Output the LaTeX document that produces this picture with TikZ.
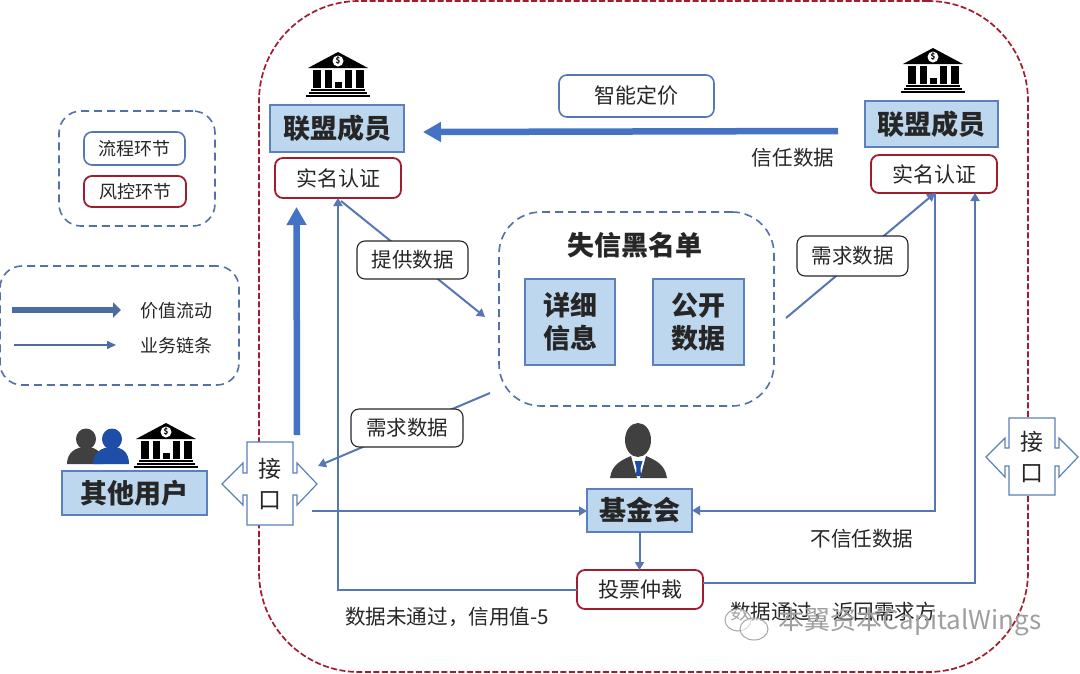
\documentclass[tikz,border=0pt]{standalone}
\usepackage{fontspec}
\setmainfont{Noto Sans CJK SC}
\usetikzlibrary{arrows.meta,calc,shapes.geometric}
\definecolor{boxfill}{HTML}{BDD7EE}
\definecolor{boxline}{HTML}{5B80BD}
\definecolor{flow}{HTML}{4472C4}
\definecolor{linkc}{HTML}{5676B4}
\definecolor{riskc}{HTML}{A21C2E}
\definecolor{ink}{HTML}{262626}
\definecolor{dashc}{HTML}{5470A8}
\definecolor{headc}{HTML}{404040}
\definecolor{bluep}{HTML}{1F4EA8}
\newcommand{\fsz}[1]{\fontsize{#1}{#1}\selectfont}
\tikzset{
  x=1pt,y=-1pt,
  every node/.style={inner sep=0pt,outer sep=0pt,text=ink},
  bluebox/.style={draw=boxline,fill=boxfill,line width=2pt,font=\fsz{27}\bfseries,align=center},
  riskbox/.style={draw=riskc,fill=white,line width=1.8pt,rounded corners=8pt,font=\fsz{21}},
  plainbox/.style={draw=ink,fill=white,line width=1.1pt,rounded corners=8pt,font=\fsz{20.5}},
  procbox/.style={draw=linkc,fill=white,line width=1.6pt,rounded corners=8pt,font=\fsz{21}},
  dashbox/.style={draw=dashc,line width=1.6pt,dash pattern=on 8pt off 5pt,rounded corners=22pt},
  label/.style={font=\fsz{20.6}},
  small/.style={font=\fsz{18}},
  linkline/.style={draw=linkc,line width=2pt,-{Triangle[length=8pt,width=9pt]}},
  valueline/.style={draw=flow,line width=6.5pt,-{Triangle[length=18pt,width=19pt]}},
  portc/.style={draw=boxline,fill=white,line width=1.2pt,line join=miter},
  pics/bank/.style={code={
    \fill[black] (-30,16) -- (0,0) -- (30,16) -- cycle;
    \fill[white] (0,9) circle (5.5);
    \node[font=\fsz{8}\bfseries,text=black] (-bankmark) at (0,9) {\$};
    \foreach \a/\b in {-25/-17,-13/-6,7/14,18/26} \fill[black] (\a,18) rectangle (\b,36);
    \fill[black] (-3,30) rectangle (4,36);
    \fill[black] (-27,37) rectangle (27,39);
    \fill[black] (-29,40) rectangle (29,42);
    \fill[black] (-32,43) rectangle (32,45);
  }},
  pics/user/.style={code={
    \fill[pic actions] (0,0) ellipse (10 and 10.5);
    \fill[pic actions] (-19,25) .. controls (-19,14) and (-11,8) .. (0,8) .. controls (11,8) and (17,14) .. (17,25) -- cycle;
  }},
}
\begin{document}
\begin{tikzpicture}
\useasboundingbox (0,0) rectangle (1080,673);
\fill[white] (0,0) rectangle (1080,673);

% outer frame
\node[draw=riskc,line width=1.7pt,dash pattern=on 6pt off 2.5pt,rounded corners=100pt,minimum width=769pt,minimum height=671pt] (outer) at (643.5,336.5) {};

% legends
\node[dashbox,minimum width=156pt,minimum height=115pt] (legA) at (137,168.5) {};
\node[procbox,minimum width=101pt,minimum height=33pt,font=\fsz{18}] (legProc) at (134.5,148.5) {流程环节};
\node[riskbox,minimum width=102pt,minimum height=31pt,font=\fsz{18}] (legRisk) at (135,191.5) {风控环节};
\node[dashbox,minimum width=239pt,minimum height=119pt] (legB) at (119.5,325.5) {};
\coordinate (va) at (12,310); \coordinate (vb) at (121,310);
\coordinate (ba) at (14,345); \coordinate (bb) at (116,345);
\draw[draw=boxline!85!black,line width=6pt,-{Triangle[length=8pt,width=15pt]}] (va) -- (vb);
\draw[draw=boxline!85!black,line width=1.6pt,-{Triangle[length=9pt,width=8pt]}] (ba) -- (bb);
\node[small] (legV) at (176,311) {价值流动};
\node[small] (legL) at (176,346) {业务链条};

% ports
\draw[portc] (222,484) -- (243,463) -- (243,473) -- (247,473) -- (247,442) -- (293,442) -- (293,473) -- (297,473) -- (297,463) -- (317,484) -- (297,505) -- (297,495) -- (293,495) -- (293,525) -- (247,525) -- (247,495) -- (243,495) -- (243,505) -- cycle;
\node[font=\fsz{23}] (portL) at (270,484) {\shortstack{接\\[9pt]口}};
\draw[portc] (986,457) -- (1005,438) -- (1005,448) -- (1009,448) -- (1009,418) -- (1055,418) -- (1055,448) -- (1059,448) -- (1059,438) -- (1078,457) -- (1059,477) -- (1059,466) -- (1055,466) -- (1055,495) -- (1009,495) -- (1009,466) -- (1005,466) -- (1005,477) -- cycle;
\node[font=\fsz{23}] (portR) at (1032,457) {\shortstack{接\\[9pt]口}};

% blacklist
\node[dashbox,rounded corners=42pt,fill=white,minimum width=275pt,minimum height=194pt] (black) at (636.5,309) {};
\node[font=\fsz{27}\bfseries] (blackT) at (635,245) {失信黑名单};
\node[bluebox,minimum width=90pt,minimum height=86pt,line width=2.4pt] (detail) at (570,322) {详细\\[6pt]信息};
\node[bluebox,minimum width=91pt,minimum height=86pt,line width=2.4pt] (open) at (698.5,322) {公开\\[6pt]数据};

% members
\pic at (338,52) {bank};
\node[bluebox,minimum width=134pt,minimum height=47pt] (memL) at (337,128.5) {联盟成员};
\node[riskbox,minimum width=126pt,minimum height=40pt] (authL) at (338,178) {实名认证};
\pic at (933,48) {bank};
\node[bluebox,minimum width=133pt,minimum height=46pt] (memR) at (931.5,124) {联盟成员};
\node[riskbox,minimum width=126pt,minimum height=38pt] (authR) at (934,174) {实名认证};

% value flows
\coordinate (vsrc) at (838,131); \coordinate (vdst) at (423,132);
\draw[valueline] (vsrc) -- (vdst);
\node[procbox,minimum width=155pt,minimum height=42pt] (price) at (636.5,96) {智能定价};
\node[label] (trust) at (793,158) {信任数据};
\coordinate (usrc) at (297,435); \coordinate (udst) at (296.5,207);
\draw[valueline] (usrc) -- (udst);

% other users
\pic[fill=headc] at (86,439) {user};
\pic[fill=bluep] at (112,439) {user};
\pic at (166,423) {bank};
\node[bluebox,minimum width=145pt,minimum height=44pt] (others) at (134.5,493) {其他用户};

% foundation
\fill[headc] (638,440) ellipse (13 and 17);
\fill[headc] (610,478) .. controls (612,464) and (622,460) .. (631,456) -- (637,478) -- cycle;
\fill[headc] (667,478) .. controls (665,464) and (655,460) .. (646,456) -- (640,478) -- cycle;
\fill[bluep] (634.5,461) -- (642.5,461) -- (640.5,468) -- (641,476) -- (636,476) -- (636.5,468) -- cycle;
\node[bluebox,minimum width=105pt,minimum height=43pt] (fund) at (639.5,510.5) {基金会};
\node[riskbox,minimum width=126pt,minimum height=39pt] (vote) at (640,589.5) {投票仲裁};

% connectors
\coordinate (c1a) at (341,201); \coordinate (c1b) at (485,317);
\draw[linkline] (c1a) -- (c1b);
\coordinate (c2a) at (786,318);
\coordinate (authRa) at (935,193);
\draw[linkline] (c2a) -- (authRa);
\coordinate (c3a) at (490,393); \coordinate (c3b) at (318,466);
\draw[linkline] (c3a) -- (c3b);
\coordinate (c4a) at (312,511);
\draw[linkline] (c4a) -- (fund.west |- c4a);
\draw[linkline] (authRa) -- (authRa |- fund.east) -- (fund.east);
\draw[linkline] (fund.south) -- (vote.north -| fund.south);
\coordinate (authRb) at (975,193);
\coordinate (voteE) at (703,583);
\draw[linkline] (voteE) -- (authRb |- voteE) -- (authRb);
\coordinate (authLb) at (338,198);
\coordinate (voteW) at (577,590);
\draw[linkline] (voteW) -- (authLb |- voteW) -- (authLb);

% link labels
\node[plainbox,minimum width=111pt,minimum height=38pt] (supply) at (412.5,260) {提供数据};
\node[plainbox,minimum width=111pt,minimum height=40pt] (needR) at (852.5,256) {需求数据};
\node[plainbox,minimum width=112pt,minimum height=38pt] (needL) at (407,428) {需求数据};
\node[label] (untrust) at (862,539) {不信任数据};
\node[label] (reject) at (447,617) {数据未通过，信用值-5};
\node[label] (pass) at (833,612) {数据通过，返回需求方};

% watermark
\draw[gray!70,line width=1pt,fill=white,fill opacity=.6] (738,620) ellipse (13 and 11);
\draw[gray!70,line width=1pt,fill=white,fill opacity=.6] (754,629) ellipse (14 and 11);
\node[font=\fsz{26},text=gray!75] (mark) at (910,622) {本翼资本CapitalWings};
\end{tikzpicture}
\end{document}
